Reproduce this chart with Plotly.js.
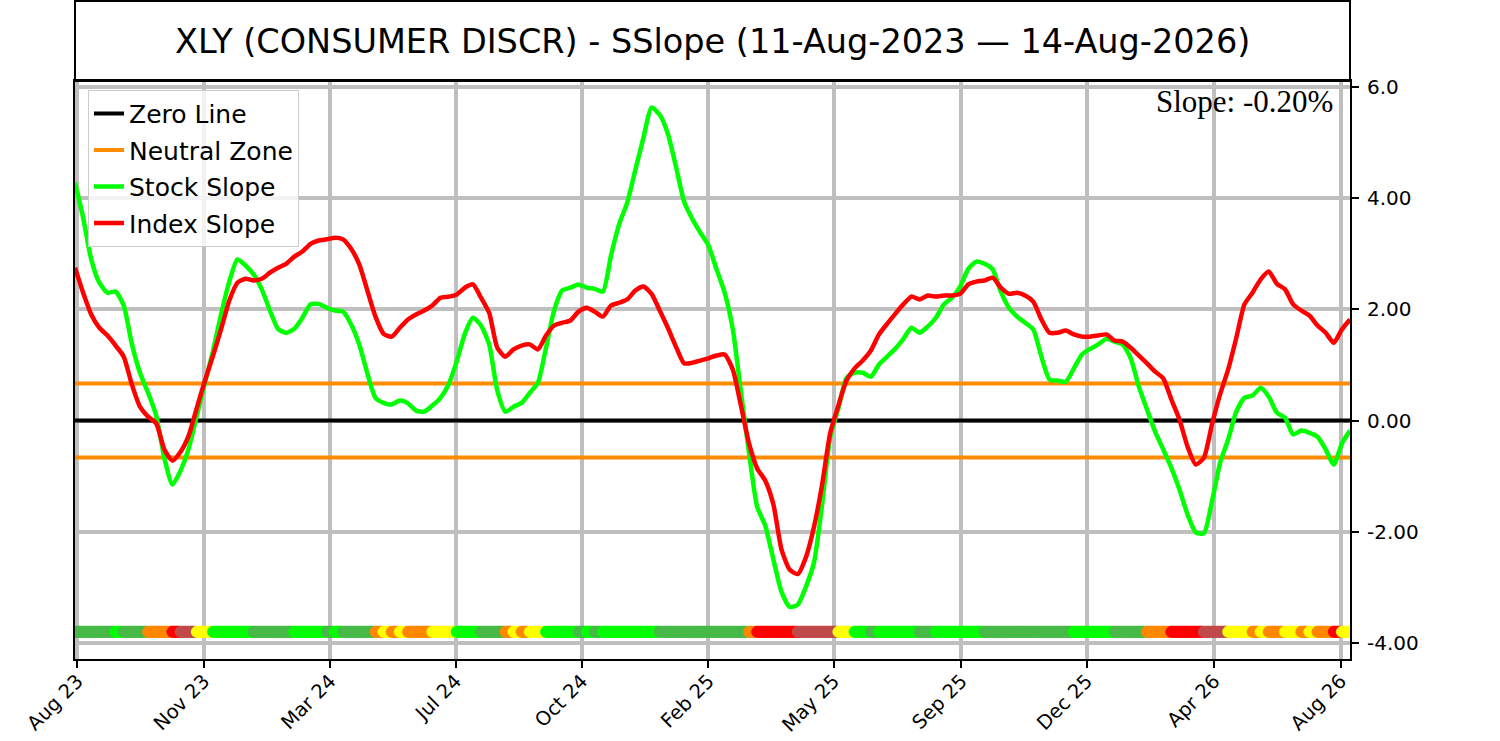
<!DOCTYPE html>
<html>
<head>
<meta charset="utf-8">
<script src="https://cdn.plot.ly/plotly-3.0.1.min.js"></script>
<style>
  html, body { margin: 0; padding: 0; background: #ffffff; }
  #chart { width: 1500px; height: 741px; }
</style>
</head>
<body>
<div id="chart"></div>
<script>
// weekly samples, 11-Aug-2023 .. 14-Aug-2026 (158 points)
const startDate = '2023-08-11';
const endDate = '2026-08-14';
const weekCount = 158;

const stockSlope = [
  4.28, 3.65, 2.90, 2.48, 2.30, 2.32, 2.07, 1.38, 0.86, 0.50,
  0.09, -0.67, -1.15, -0.90, -0.50, 0.09, 0.68, 1.26, 1.92, 2.50,
  2.90, 2.79, 2.63, 2.36, 1.98, 1.65, 1.58, 1.65, 1.85, 2.09,
  2.10, 2.03, 1.98, 1.96, 1.73, 1.37, 0.85, 0.41, 0.32, 0.29,
  0.36, 0.31, 0.18, 0.16, 0.27, 0.41, 0.65, 1.06, 1.56, 1.85,
  1.71, 1.37, 0.54, 0.16, 0.25, 0.32, 0.50, 0.68, 1.31, 1.98,
  2.34, 2.39, 2.45, 2.39, 2.37, 2.32, 2.97, 3.53, 3.92, 4.51,
  5.09, 5.63, 5.50, 5.16, 4.57, 3.94, 3.63, 3.38, 3.15, 2.72,
  2.30, 1.64, 0.52, -0.58, -1.55, -1.89, -2.50, -3.08, -3.35, -3.31,
  -2.99, -2.55, -1.51, -0.29, 0.22, 0.77, 0.86, 0.86, 0.79, 1.01,
  1.15, 1.29, 1.47, 1.67, 1.58, 1.69, 1.85, 2.09, 2.21, 2.41,
  2.73, 2.86, 2.82, 2.72, 2.32, 2.03, 1.87, 1.76, 1.64, 1.15,
  0.74, 0.72, 0.70, 0.94, 1.19, 1.29, 1.37, 1.47, 1.42, 1.37,
  1.12, 0.61, 0.20, -0.20, -0.52, -0.85, -1.24, -1.69, -2.01, -2.03,
  -1.46, -0.76, -0.34, 0.16, 0.41, 0.45, 0.59, 0.43, 0.14, 0.05,
  -0.25, -0.18, -0.22, -0.29, -0.52, -0.79, -0.41, -0.18
];

const indexSlope = [
  2.75, 2.30, 1.91, 1.67, 1.53, 1.35, 1.15, 0.65, 0.25, 0.07,
  -0.05, -0.52, -0.72, -0.56, -0.27, 0.23, 0.72, 1.17, 1.65, 2.16,
  2.48, 2.55, 2.52, 2.55, 2.66, 2.75, 2.82, 2.95, 3.04, 3.18,
  3.24, 3.26, 3.29, 3.26, 3.09, 2.81, 2.34, 1.87, 1.56, 1.51,
  1.67, 1.82, 1.91, 1.98, 2.07, 2.21, 2.23, 2.27, 2.39, 2.45,
  2.21, 1.94, 1.31, 1.15, 1.28, 1.35, 1.37, 1.28, 1.53, 1.71,
  1.76, 1.80, 1.96, 2.03, 1.96, 1.87, 2.07, 2.12, 2.18, 2.34,
  2.41, 2.28, 1.98, 1.67, 1.33, 1.03, 1.04, 1.08, 1.12, 1.17,
  1.19, 0.92, 0.27, -0.41, -0.86, -1.08, -1.51, -2.32, -2.68, -2.76,
  -2.46, -1.91, -1.15, -0.22, 0.27, 0.72, 0.94, 1.08, 1.26, 1.55,
  1.74, 1.92, 2.09, 2.23, 2.18, 2.25, 2.23, 2.25, 2.25, 2.28,
  2.45, 2.50, 2.52, 2.57, 2.39, 2.28, 2.30, 2.25, 2.14, 1.82,
  1.58, 1.58, 1.62, 1.55, 1.51, 1.51, 1.53, 1.55, 1.44, 1.42,
  1.31, 1.17, 1.03, 0.88, 0.76, 0.38, 0.02, -0.47, -0.79, -0.67,
  -0.07, 0.47, 0.92, 1.49, 2.09, 2.30, 2.54, 2.68, 2.46, 2.36,
  2.09, 1.98, 1.89, 1.71, 1.58, 1.40, 1.64, 1.82
];

// signal strip, one letter per week (drawn as one dot per day)
const stripCodes =
  'GGGGGLGGGOOORBBYYLLLLLGGGGGLLLLGLGGGGOYOYOOOYYYLLLGGGOYOYYLLLLGLG' +
  'LLLLLLLGGGGGGGGGGGORRRRRBBBBBYYLLGLLLLLGGLLLLLLGGGGGGGGGGGLLLLLGG' +
  'GGOOORRRRBBBYYYOYOOYYOYOORYY';
const stripColors = {
  G: '#47b947', L: '#00ff00', O: '#ff8800',
  R: '#ff0000', B: '#c04a4a', Y: '#ffff00'
};

const zeroLevel = 0;
const neutralLevel = 0.665;
const stripLevel = -3.8;
const slopeText = 'Slope: -0.20%';

const tickDates = [ '2023-08-13', '2023-11-30', '2024-03-18', '2024-07-04', '2024-10-21',
  '2025-02-07', '2025-05-26', '2025-09-13', '2025-12-30', '2026-04-19', '2026-08-06' ];
const tickLabels = [ 'Aug 23', 'Nov 23', 'Mar 24', 'Jul 24', 'Oct 24',
  'Feb 25', 'May 25', 'Sep 25', 'Dec 25', 'Apr 26', 'Aug 26' ];
const yTickVals = [ 6, 4, 2, 0, -2, -4 ];
const yTickText = [ '6.0', '4.00', '2.00', '0.00', '-2.00', '-4.00' ];

const DAY = 86400000;
const t0 = Date.UTC( 2023, 7, 11 );

function isoDay( t ) {
    return new Date( t ).toISOString().slice( 0, 10 );
}

let dates = [];
for ( let k = 0; k < weekCount; ++k ) {
    dates.push( isoDay( t0 + k * 7 * DAY ) );
}

// strip: every day takes the code of its week
let stripX = [];
let stripC = [];
let lastDay = ( weekCount - 1 ) * 7;
for ( let d = 0; d <= lastDay; ++d ) {
    stripX.push( isoDay( t0 + d * DAY ) );
    stripC.push( stripColors[ stripCodes[ Math.floor( d / 7 ) ] ] );
}

const font = 'DejaVu Sans, sans-serif';
const gridGrey = '#bfbfbf';

let traces = [
    {
        x: [ startDate, endDate ], y: [ zeroLevel, zeroLevel ],
        name: 'Zero Line', mode: 'lines', legendgroup: 'a',
        line: { color: '#000000', width: 4 }
    },
    {
        x: [ startDate, endDate, null, startDate, endDate ],
        y: [ neutralLevel, neutralLevel, null, -neutralLevel, -neutralLevel ],
        name: 'Neutral Zone', mode: 'lines', legendgroup: 'b',
        line: { color: '#ff8c00', width: 4 }
    },
    {
        x: dates, y: stockSlope,
        name: 'Stock Slope', mode: 'lines', legendgroup: 'c',
        line: { color: '#00ff00', width: 4.5, shape: 'spline', smoothing: 0.6 }
    },
    {
        x: dates, y: indexSlope,
        name: 'Index Slope', mode: 'lines', legendgroup: 'd',
        line: { color: '#ff0000', width: 4.5, shape: 'spline', smoothing: 0.6 }
    },
    {
        x: stripX, y: stripX.map( () => stripLevel ),
        mode: 'markers', showlegend: false, hoverinfo: 'skip',
        marker: { size: 12, color: stripC, line: { width: 0 } }
    }
];

let layout = {
    width: 1500, height: 741,
    margin: { l: 75, r: 150, t: 81, b: 82 },
    paper_bgcolor: '#ffffff', plot_bgcolor: '#ffffff',
    font: { family: font, color: '#000000' },
    xaxis: {
        type: 'date', range: [ startDate, endDate ],
        tickmode: 'array', tickvals: tickDates, ticktext: tickLabels, tickangle: -45,
        ticks: 'outside', ticklen: 7, tickwidth: 2, tickcolor: '#000000',
        ticklabelstandoff: -6,
        tickfont: { family: font, size: 19.5, color: '#000000' },
        showgrid: true, gridcolor: gridGrey, gridwidth: 4,
        showline: true, linecolor: '#000000', linewidth: 2, mirror: true,
        zeroline: false
    },
    yaxis: {
        side: 'right', range: [ -4.288, 6.108 ],
        tickmode: 'array', tickvals: yTickVals, ticktext: yTickText,
        ticks: 'outside', ticklen: 7, tickwidth: 2, tickcolor: '#000000',
        ticklabelstandoff: 4,
        tickfont: { family: font, size: 20, color: '#000000' },
        showgrid: true, gridcolor: gridGrey, gridwidth: 4,
        showline: true, linecolor: '#000000', linewidth: 2, mirror: true,
        zeroline: false
    },
    legend: {
        x: 0.0102, y: 0.985, xanchor: 'left', yanchor: 'top',
        bgcolor: 'rgba(255,255,255,0.8)', bordercolor: '#cccccc', borderwidth: 1,
        font: { family: font, size: 25, color: '#000000' },
        tracegroupgap: 1
    },
    shapes: [
        {
            type: 'rect', xref: 'paper', yref: 'paper',
            x0: 0, x1: 1, y0: 1, y1: 1 + 80 / 578,
            line: { color: '#000000', width: 2 }, fillcolor: 'rgba(0,0,0,0)'
        }
    ],
    annotations: [
        {
            text: 'XLY (CONSUMER DISCR) - SSlope (11-Aug-2023 — 14-Aug-2026)',
            xref: 'paper', yref: 'paper', x: 0.5, y: 1 + 40 / 578,
            xanchor: 'center', yanchor: 'middle', showarrow: false,
            font: { family: font, size: 33.5, color: '#000000' }
        },
        {
            text: slopeText,
            xref: 'paper', yref: 'paper', x: 0.988, y: 0.999,
            xanchor: 'right', yanchor: 'top', showarrow: false,
            font: { family: 'Liberation Serif, Times New Roman, serif', size: 31, color: '#000000' }
        }
    ]
};

Plotly.newPlot( 'chart', traces, layout, { staticPlot: true, displayModeBar: false } );
</script>
</body>
</html>
